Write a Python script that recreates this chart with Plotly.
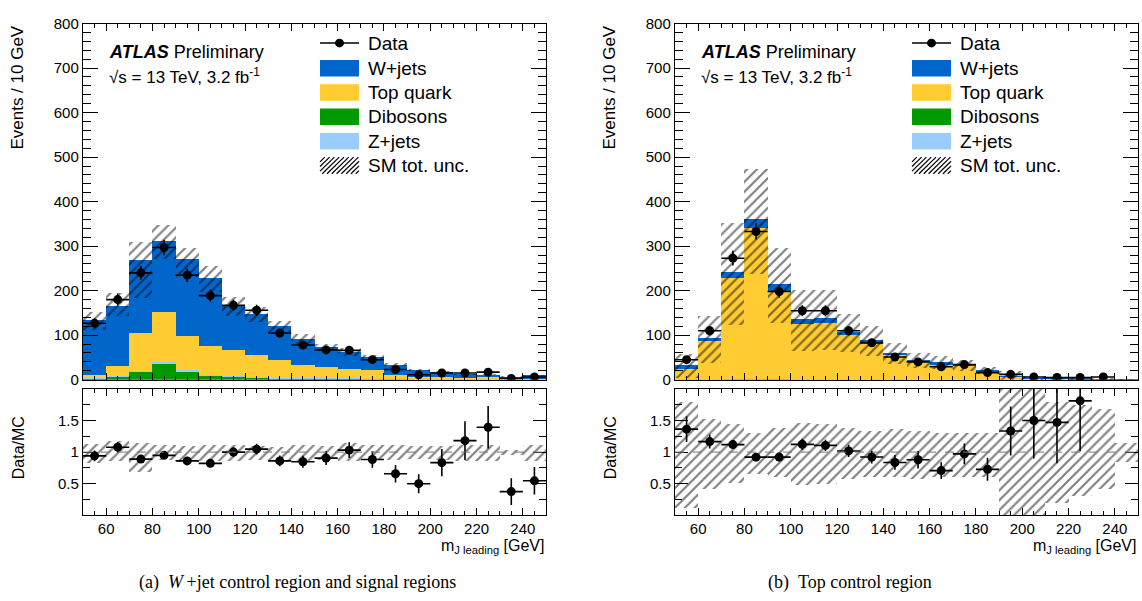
import plotly.graph_objects as go

FIG_W, FIG_H = 1142, 601
SANS = "Liberation Sans, Arial, Helvetica, sans-serif"
SERIF = "Liberation Serif, Times New Roman, serif"

# 10 GeV bins of the leading large-R jet mass
bin_edges = [50, 60, 70, 80, 90, 100, 110, 120, 130, 140, 150,
             160, 170, 180, 190, 200, 210, 220, 230, 240, 250]

# ---- (a) W+jet control region ----
wjets_wcr = [123, 135, 164, 159, 174, 154, 100, 92, 77.5, 59, 44, 40, 28, 23, 15, 12, 7.2, 6.2, 5, 8]
top_wcr = [7, 23, 85, 114, 77, 64, 58, 50, 39, 28, 25, 20, 19.7, 10, 5.7, 4.7, 4.5, 5, 2.3, 2.3]
dib_wcr = [4, 8, 19, 38, 20, 10.5, 7.5, 6, 4.5, 4, 4, 3, 2.5, 1.5, 1, 1, 0.7, 0.7, 0.5, 0.5]
zjets_wcr = [1, 1, 2, 2, 2, 1.5, 1.5, 1, 1, 1, 1, 1, 0.8, 0.5, 0.3, 0.3, 0.3, 0.3, 0.2, 0.2]
data_wcr = [127, 180, 240, 297, 235, 189, 167, 156, 105, 78, 67, 66, 45, 23, 11, 15, 15, 17, 3, 6]
data_err_wcr = [11.3, 13.4, 15.5, 17.2, 15.3, 13.7, 12.9, 12.5, 10.2, 8.8, 8.2, 8.1, 6.7, 4.8,
                3.3, 3.9, 3.9, 4.1, 1.7, 2.4]
# total SM uncertainty, relative to the SM prediction
unc_hi_wcr = [1.13, 1.17, 1.15, 1.11, 1.09, 1.11, 1.12, 1.10, 1.08, 1.12, 1.10, 1.14, 1.12, 1.12,
              1.10, 1.10, 1.11, 1.11, 1.04, 1.11]
unc_lo_wcr = [0.83, 0.86, 0.68, 0.87, 0.85, 0.86, 0.86, 0.87, 0.85, 0.85, 0.87, 0.86, 0.87, 0.88,
              0.89, 0.87, 0.86, 0.86, 0.95, 0.86]

# ---- (b) Top control region ----
wjets_tcr = [8, 7.5, 13.5, 20, 16.5, 11, 11, 7.1, 8.3, 5, 5.5, 6, 2.5, 2.5, 1.2, 0.6, 0.5, 0.3, 0.4, 0.3]
top_tcr = [24, 86, 229, 340, 197, 126, 128, 100, 81, 55.4, 39.5, 34.5, 32, 19, 7.5, 3.2, 2.7, 2.26, 1.9, 1.0]
dib_tcr = [0.6, 0.5, 1, 1.5, 1, 0.8, 0.8, 0.6, 0.5, 0.4, 0.3, 0.3, 0.3, 0.3, 0.2, 0.1, 0.1, 0.1, 0.1, 0.1]
zjets_tcr = [0.4, 0.3, 0.5, 0.5, 0.5, 0.3, 0.3, 0.3, 0.2, 0.2, 0.2, 0.2, 0.2, 0.2, 0.1, 0.1, 0.1, 0.1, 0.1, 0.1]
data_tcr = [45, 110, 273, 333, 198, 155, 155, 110, 83, 51, 40, 29, 34, 16, 12, 6, 5, 5, 6, None]
data_err_tcr = [6.7, 10.5, 16.5, 18.2, 14.1, 12.4, 12.4, 10.5, 9.1, 7.1, 6.3, 5.4, 5.8, 4.0,
                3.5, 2.4, 2.2, 2.2, 2.4, None]
unc_hi_tcr = [1.80, 1.52, 1.45, 1.31, 1.38, 1.46, 1.44, 1.38, 1.34, 1.36, 1.33, 1.30, 1.30, 1.30,
              2.30, 2.30, 1.79, 1.74, 1.69, 1.15]
unc_lo_tcr = [0.12, 0.41, 0.51, 0.66, 0.60, 0.48, 0.49, 0.58, 0.61, 0.61, 0.58, 0.61, 0.61, 0.61,
              0.00, 0.00, 0.20, 0.30, 0.41, 0.84]

process_names = ["W+jets", "Top quark", "Dibosons", "Z+jets"]
process_colors = {"W+jets": "#0066cc", "Top quark": "#ffcc33",
                  "Dibosons": "#009900", "Z+jets": "#99ccff"}
stack_order = ["Dibosons", "Z+jets", "Top quark", "W+jets"]  # bottom to top

centers = [(lo + hi) / 2 for lo, hi in zip(bin_edges[:-1], bin_edges[1:])]
widths = [hi - lo for lo, hi in zip(bin_edges[:-1], bin_edges[1:])]


def px(x):
    return x / FIG_W


def py(y):
    return 1 - y / FIG_H


HATCH = dict(shape="/", fgcolor="black", bgcolor="rgba(0,0,0,0)", size=7, solidity=0.3)

regions = [
    dict(name="wcr", left=83, right=546, axes=("x", "y", "x2", "y2"),
         procs={"W+jets": wjets_wcr, "Top quark": top_wcr, "Dibosons": dib_wcr, "Z+jets": zjets_wcr},
         data=data_wcr, err=data_err_wcr, hi=unc_hi_wcr, lo=unc_lo_wcr,
         caption="(a)\u00a0\u00a0<i>W</i>\u2009+jet control region and signal regions", cap_x=137),
    dict(name="tcr", left=675, right=1138, axes=("x3", "y3", "x4", "y4"),
         procs={"W+jets": wjets_tcr, "Top quark": top_tcr, "Dibosons": dib_tcr, "Z+jets": zjets_tcr},
         data=data_tcr, err=data_err_tcr, hi=unc_hi_tcr, lo=unc_lo_tcr,
         caption="(b)\u00a0\u00a0Top control region", cap_x=766),
]

fig = go.Figure()
shapes, annotations = [], []

TOP_Y0, TOP_Y1 = 381.5, 15      # pixel rows of 0 and 800 events
RAT_Y0, RAT_Y1 = 521, 391       # pixel rows of ratio 0 and 2

for reg in regions:
    xa, ya, xr, yr = reg["axes"]
    procs = reg["procs"]
    total = [sum(procs[p][i] for p in process_names) for i in range(len(centers))]

    # stacked SM backgrounds
    base = [0.0] * len(centers)
    for p in stack_order:
        vals = procs[p]
        fig.add_trace(go.Bar(x=centers, y=vals, base=list(base), width=widths,
                             marker=dict(color=process_colors[p], line=dict(width=0)),
                             xaxis=xa, yaxis=ya, showlegend=False, hoverinfo="skip"))
        base = [b + v for b, v in zip(base, vals)]

    # SM total uncertainty band
    fig.add_trace(go.Bar(x=centers,
                         y=[t * (h - l) for t, h, l in zip(total, reg["hi"], reg["lo"])],
                         base=[t * l for t, l in zip(total, reg["lo"])], width=widths,
                         marker=dict(color="rgba(0,0,0,0)", line=dict(width=0), pattern=HATCH),
                         xaxis=xa, yaxis=ya, showlegend=False, hoverinfo="skip"))

    # data
    fig.add_trace(go.Scatter(x=centers, y=reg["data"], mode="markers",
                             marker=dict(color="black", size=9),
                             error_y=dict(type="data", array=reg["err"], color="black", thickness=1.6, width=0),
                             error_x=dict(type="data", array=[w / 2 for w in widths], color="black",
                                          thickness=1.6, width=0),
                             xaxis=xa, yaxis=ya, showlegend=False))

    # ratio panel: uncertainty band around unity
    fig.add_trace(go.Bar(x=centers, y=[h - l for h, l in zip(reg["hi"], reg["lo"])], base=reg["lo"],
                         width=widths,
                         marker=dict(color="rgba(0,0,0,0)", line=dict(width=0), pattern=HATCH),
                         xaxis=xr, yaxis=yr, showlegend=False, hoverinfo="skip"))

    # data / MC, points outside the displayed range are not drawn
    ratio, ratio_err = [], []
    for d, e, t in zip(reg["data"], reg["err"], total):
        r = None if d is None else d / t
        if r is None or r > 2:
            ratio.append(None)
            ratio_err.append(0)
        else:
            ratio.append(r)
            ratio_err.append(e / t)
    fig.add_trace(go.Scatter(x=centers, y=ratio, mode="markers",
                             marker=dict(color="black", size=9),
                             error_y=dict(type="data", array=ratio_err, color="black", thickness=1.6, width=0),
                             error_x=dict(type="data", array=[w / 2 for w in widths], color="black",
                                          thickness=1.6, width=0),
                             xaxis=xr, yaxis=yr, showlegend=False))

    shapes.append(dict(type="line", xref=xr, yref=yr, x0=bin_edges[0], x1=bin_edges[-1], y0=1, y1=1,
                       line=dict(color="#777777", width=1, dash="dash"), layer="above"))

    L, R = reg["left"], reg["right"]

    # axis titles
    annotations.append(dict(text="Events / 10 GeV", x=px(L - 65), y=py(15), xref="paper", yref="paper",
                            textangle=-90, xanchor="center", yanchor="top", showarrow=False,
                            font=dict(family=SANS, size=17, color="black")))
    annotations.append(dict(text="Data/MC", x=px(L - 65), y=py(452), xref="paper", yref="paper",
                            textangle=-90, xanchor="center", yanchor="middle", showarrow=False,
                            font=dict(family=SANS, size=16, color="black")))
    annotations.append(dict(text="m<sub>J leading</sub> [GeV]", x=px(R), y=py(553), xref="paper",
                            yref="paper", xanchor="right", yanchor="middle", showarrow=False,
                            font=dict(family=SANS, size=16, color="black")))

    # ATLAS label
    annotations.append(dict(text="<b><i>ATLAS</i></b> Preliminary", x=px(L + 24), y=py(44), xref="paper",
                            yref="paper", xanchor="left", yanchor="middle", showarrow=False,
                            font=dict(family=SANS, size=18, color="black")))
    annotations.append(dict(text="\u221as = 13 TeV, 3.2 fb<sup>-1</sup>", x=px(L + 24), y=py(69),
                            xref="paper", yref="paper", xanchor="left", yanchor="middle", showarrow=False,
                            font=dict(family=SANS, size=17, color="black")))

    # legend
    bx0, bx1 = L + 237, L + 276
    rows = [35, 61, 86, 111, 136, 161]
    labels = ["Data"] + process_names + ["SM tot. unc."]
    for row, lab in zip(rows, labels):
        annotations.append(dict(text=lab, x=px(L + 283), y=py(row), xref="paper", yref="paper",
                                xanchor="left", yanchor="middle", showarrow=False,
                                font=dict(family=SANS, size=19, color="black")))
    shapes.append(dict(type="line", xref="paper", yref="paper", x0=px(bx0), x1=px(bx1),
                       y0=py(rows[0]), y1=py(rows[0]), line=dict(color="black", width=1.6)))
    cx = (bx0 + bx1) / 2
    shapes.append(dict(type="circle", xref="paper", yref="paper", x0=px(cx - 4.5), x1=px(cx + 4.5),
                       y0=py(rows[0] + 4.5), y1=py(rows[0] - 4.5), fillcolor="black",
                       line=dict(color="black", width=0)))
    for row, p in zip(rows[1:5], process_names):
        shapes.append(dict(type="rect", xref="paper", yref="paper", x0=px(bx0), x1=px(bx1),
                           y0=py(row + 8.5), y1=py(row - 8.5), fillcolor=process_colors[p],
                           line=dict(width=0)))
    # hatched swatch
    hb, ht = rows[5] + 8.5, rows[5] - 8.5
    hh = hb - ht
    bw = bx1 - bx0
    c = -hh
    while c < bw:
        xs = max(c, 0.0)
        xe = min(c + hh, bw)
        if xe > xs:
            shapes.append(dict(type="line", xref="paper", yref="paper",
                               x0=px(bx0 + xs), y0=py(hb - (xs - c)),
                               x1=px(bx0 + xe), y1=py(hb - (xe - c)),
                               line=dict(color="black", width=1.2)))
        c += 4.8

    annotations.append(dict(text=reg["caption"], x=px(reg["cap_x"]), y=py(590), xref="paper", yref="paper",
                            xanchor="left", yanchor="middle", showarrow=False,
                            font=dict(family=SERIF, size=18, color="black")))

frame = dict(showline=True, linecolor="black", linewidth=1.4, mirror="ticks", ticks="inside",
             tickcolor="black", tickwidth=1, showgrid=False, zeroline=False,
             tickfont=dict(family=SANS, size=15, color="black"))

layout_axes = {}
for reg in regions:
    xa, ya, xr, yr = reg["axes"]
    dom_x = [px(reg["left"]), px(reg["right"])]
    layout_axes["xaxis" + xa[1:]] = dict(frame, domain=dom_x, range=[50, 250], anchor=ya, tick0=0, dtick=20,
                                         ticklen=7, showticklabels=False,
                                         minor=dict(ticks="inside", dtick=5, ticklen=4, tickcolor="black",
                                                    tickwidth=1))
    layout_axes["yaxis" + ya[1:]] = dict(frame, domain=[py(TOP_Y0), py(TOP_Y1)], range=[0, 800], anchor=xa,
                                         dtick=100, ticklen=15,
                                         minor=dict(ticks="inside", dtick=20, ticklen=8, tickcolor="black",
                                                    tickwidth=1))
    layout_axes["xaxis" + xr[1:]] = dict(frame, domain=dom_x, range=[50, 250], anchor=yr, tick0=0, dtick=20,
                                         ticklen=7,
                                         minor=dict(ticks="inside", dtick=5, ticklen=4, tickcolor="black",
                                                    tickwidth=1))
    layout_axes["yaxis" + yr[1:]] = dict(frame, domain=[py(RAT_Y0), py(RAT_Y1)], range=[0, 2], anchor=xr,
                                         tickvals=[0.5, 1, 1.5], ticktext=["0.5", "1", "1.5"], ticklen=13,
                                         minor=dict(ticks="inside", tickvals=[0.25, 0.75, 1.25, 1.75],
                                                    ticklen=7, tickcolor="black", tickwidth=1))

fig.update_layout(width=FIG_W, height=FIG_H, autosize=False,
                  margin=dict(l=0, r=0, t=0, b=0),
                  paper_bgcolor="white", plot_bgcolor="white",
                  barmode="overlay", bargap=0, showlegend=False,
                  shapes=shapes, annotations=annotations, **layout_axes)

fig.write_html("out.html")
